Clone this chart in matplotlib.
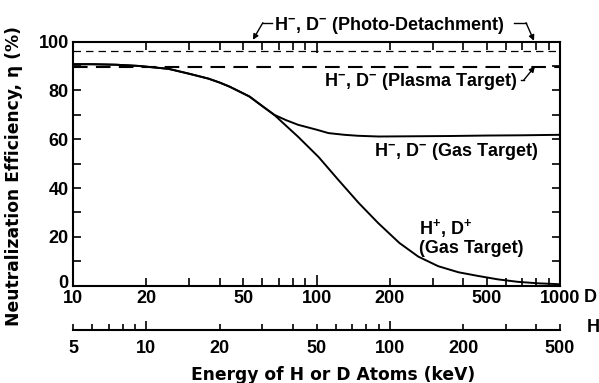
import matplotlib
matplotlib.use('Agg')
import matplotlib.pyplot as plt
import matplotlib.transforms as mtransforms
from matplotlib.ticker import FixedLocator, FuncFormatter

plt.rcParams['font.family'] = ['Liberation Sans', 'DejaVu Sans']
plt.rcParams['font.weight'] = 'bold'
plt.rcParams['mathtext.fontset'] = 'custom'
plt.rcParams['mathtext.rm'] = 'Liberation Sans:bold'
plt.rcParams['mathtext.default'] = 'rm'

# Data (energy of D atoms in keV, efficiency in %)
e_neg_gas = [10, 12, 15, 18.6, 22, 24.7, 30, 36, 40, 44, 53, 60, 67, 75, 84, 100, 112, 130, 148, 180, 250, 350, 500, 700, 1000]
eta_neg_gas = [90.7, 90.7, 90.5, 90.0, 89.3, 88.8, 86.8, 84.8, 83.2, 81.5, 77.5, 73.5, 70.0, 67.8, 65.9, 63.9, 62.5, 61.8, 61.4, 61.1, 61.2, 61.3, 61.5, 61.6, 61.8]

e_pos_gas = [10, 12, 15, 18.6, 22, 24.7, 30, 36, 40, 44, 53, 60, 67, 75, 84, 102, 123, 149, 179, 219, 262, 316, 383, 461, 556, 670, 808, 1000]
eta_pos_gas = [90.7, 90.7, 90.5, 90.0, 89.3, 88.8, 86.8, 84.8, 83.2, 81.5, 77.5, 73.5, 70.0, 65.5, 61.0, 52.7, 43.3, 33.9, 25.7, 17.5, 11.9, 8.0, 5.5, 4.0, 2.6, 1.6, 1.0, 0.6]

photo_detach = 96.2
plasma_target = 89.5

d_labels = [10, 20, 50, 100, 200, 500, 1000]
h_labels = [5, 10, 20, 50, 100, 200, 500]

fig = plt.figure(figsize=(5.99, 3.83), dpi=100)
ax = fig.add_axes([0.1219, 0.2540, 0.8130, 0.6376])

ax.plot(e_neg_gas, eta_neg_gas, color='black', lw=1.4)
ax.plot(e_pos_gas, eta_pos_gas, color='black', lw=1.4)
ax.axhline(photo_detach, color='black', lw=0.9, dashes=(6, 4))
ax.axhline(plasma_target, color='black', lw=1.5, dashes=(7, 4))

ax.set_xscale('log')
ax.set_xlim(10, 1000)
ax.set_ylim(0, 100)

# D axis ticks
ax.xaxis.set_major_locator(FixedLocator([10, 100, 1000]))
minor_d = [v * m for m in (10, 100) for v in range(2, 10)]
ax.xaxis.set_minor_locator(FixedLocator(minor_d))
ax.xaxis.set_major_formatter(FuncFormatter(lambda v, p: '%d' % v))
ax.xaxis.set_minor_formatter(FuncFormatter(lambda v, p: '%d' % v if round(v) in d_labels else ''))
ax.tick_params(axis='x', which='both', direction='in', top=True, labelsize=13, pad=3, width=1.2)
ax.tick_params(axis='x', which='major', length=8)
ax.tick_params(axis='x', which='minor', length=6)

ax.set_yticks(range(0, 101, 20))
ax.set_yticks(range(10, 100, 20), minor=True)
ax.tick_params(axis='y', which='both', direction='in', right=True, length=6, width=1.2, labelsize=13, pad=3)

# nudge the "0" label up a little so it clears the "10" below
fig.canvas.draw()
for lbl in ax.get_yticklabels():
    if lbl.get_text() == '0':
        lbl.set_transform(lbl.get_transform() + mtransforms.ScaledTranslation(0, 3 / 72, fig.dpi_scale_trans))

for s in ax.spines.values():
    s.set_linewidth(1.5)

ax.set_ylabel('Neutralization Efficiency, η (%)', fontsize=12.3, fontweight='bold', family='DejaVu Sans')
ax.yaxis.set_label_coords(-0.103, 0.449)

# H axis below
axh = fig.add_axes([0.1219, 0.1384, 0.8130, 0.0001])
axh.set_facecolor('none')
for k in ('top', 'left', 'right'):
    axh.spines[k].set_visible(False)
axh.spines['bottom'].set_linewidth(1.5)
axh.set_yticks([])
axh.set_xscale('log')
axh.set_xlim(5, 500)
axh.xaxis.set_major_locator(FixedLocator([10, 100]))
minor_h = [5, 6, 7, 8, 9] + [v * 10 for v in range(2, 10)] + [200, 300, 400, 500]
axh.xaxis.set_minor_locator(FixedLocator(minor_h))
axh.xaxis.set_major_formatter(FuncFormatter(lambda v, p: '%d' % v))
axh.xaxis.set_minor_formatter(FuncFormatter(lambda v, p: '%d' % v if round(v) in h_labels else ''))
axh.tick_params(axis='x', which='both', direction='in', labelsize=13, pad=7, width=1.2)
axh.tick_params(axis='x', which='major', length=6.5)
axh.tick_params(axis='x', which='minor', length=4.5)

fig.text(590 / 599, 1 - 297 / 383, 'D', fontsize=13, fontweight='bold', ha='center', va='center')
fig.text(593 / 599, 1 - 328 / 383, 'H', fontsize=13, fontweight='bold', ha='center', va='center')
fig.text(333.5 / 599, 1 - 375 / 383, 'Energy of H or D Atoms (keV)', fontsize=12.3, fontweight='bold',
         family='DejaVu Sans', ha='center', va='center')

# Annotations
ax.text(198, 106.5, 'H$^{-}$, D$^{-}$ (Photo-Detachment)', fontsize=13, ha='center', va='center', clip_on=False)
ax.text(268, 83.5, 'H$^{-}$, D$^{-}$ (Plasma Target)', fontsize=13, ha='center', va='center')
ax.text(374, 54.8, 'H$^{-}$, D$^{-}$ (Gas Target)', fontsize=13, ha='center', va='center')
ax.text(264, 20, 'H$^{+}$, D$^{+}$\n(Gas Target)', fontsize=13, ha='left', va='center', linespacing=1.0)

arrow = dict(arrowstyle='-|>', lw=1, color='black', mutation_scale=8, shrinkA=0, shrinkB=0)
ax.plot([65.6, 60.2], [107.7, 107.7], color='black', lw=1, clip_on=False)
ax.annotate('', xy=(54.8, 100.7), xytext=(60.2, 107.7), arrowprops=arrow, annotation_clip=False)
ax.plot([647, 725], [107.7, 107.7], color='black', lw=1, clip_on=False)
ax.annotate('', xy=(782, 100.3), xytext=(725, 107.7), arrowprops=arrow, annotation_clip=False)
ax.plot([692, 711], [84.3, 84.3], color='black', lw=1)
ax.annotate('', xy=(789, 89.8), xytext=(711, 84.3), arrowprops=arrow)

fig.savefig('out.png', dpi=100)
